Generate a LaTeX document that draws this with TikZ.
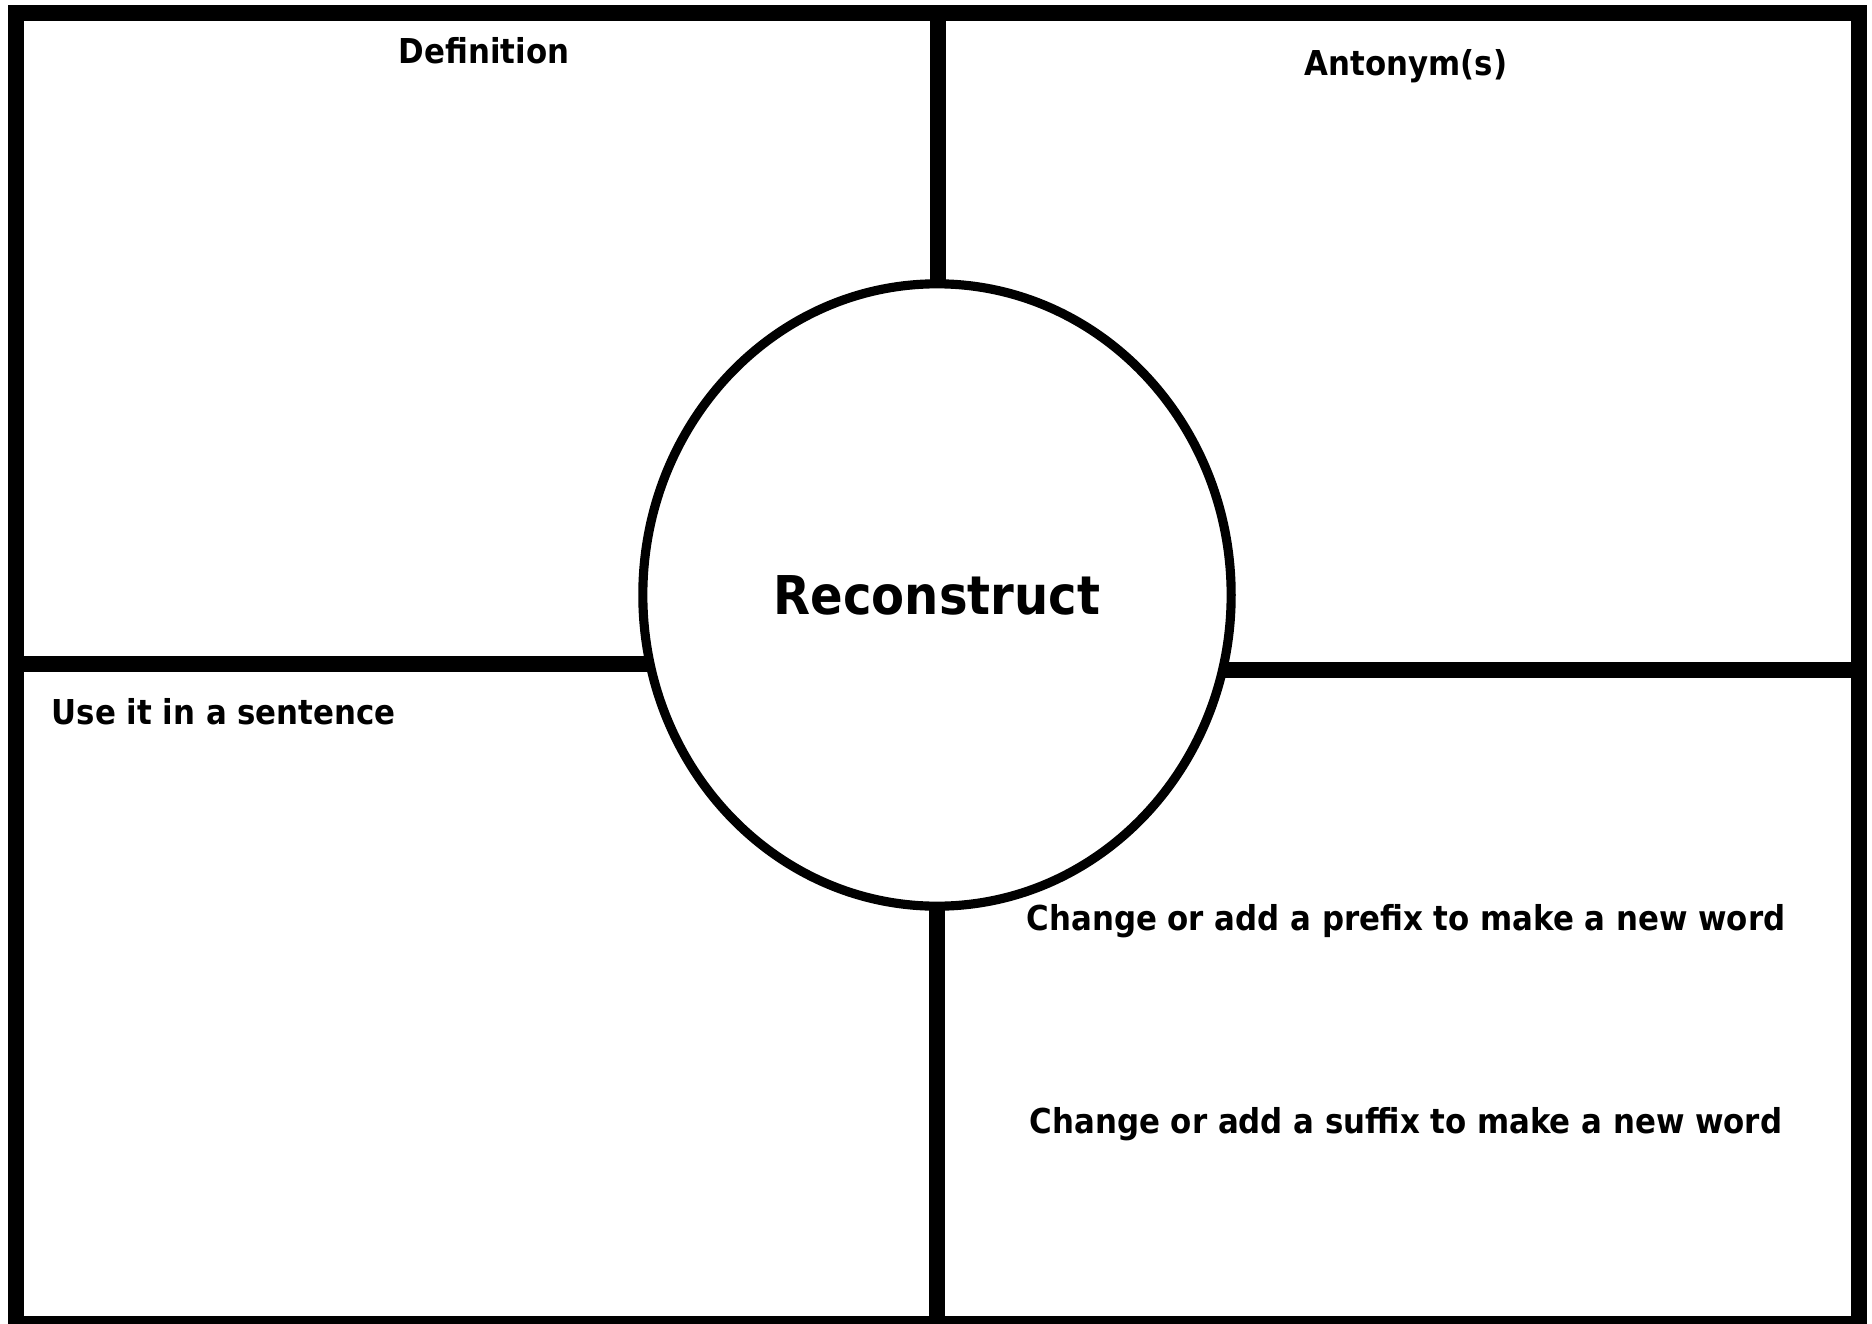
\documentclass[tikz,border=0pt]{standalone}
\usepackage{fontspec}
\setmainfont{DejaVu Sans Condensed}
\usetikzlibrary{shapes.geometric}
\tikzset{
  heavy/.style={line width=4.4pt},
  celltext/.style={font=\bfseries\fontsize{9.75}{12}\selectfont, inner sep=0pt},
}

\begin{document}
\begin{tikzpicture}[x=0.01cm, y=-0.01cm]
		\useasboundingbox (0,0) rectangle (1872,1324);
		
		% outer frame
		\draw[heavy] (16,13) rectangle (1859,1324);
		
		% dividing lines, they run under the circle
		\coordinate (c) at (937,595);
		\coordinate (top) at (938,13);
		\coordinate (bottom) at (937,1324);
		\coordinate (left) at (16,664);
		\coordinate (right) at (1859,670);
		\draw[heavy] (top) -- (top |- c);
		\draw[heavy] (bottom) -- (bottom |- c);
		\draw[heavy] (left) -- (left -| c);
		\draw[heavy] (right) -- (right -| c);
		
		% the word in the middle
		\node[draw, ellipse, line width=2.6pt, fill=white, inner sep=0pt,
		minimum width=5.88cm, minimum height=6.22cm,
		font=\bfseries\fontsize{15.2}{18}\selectfont] (word) at (c) {Reconstruct};
		
		% headings of the four boxes
		\node[celltext] (def) at (484,51) {Definition};
		\node[celltext] (ant) at (1406,66) {Antonym(s)};
		\node[celltext, anchor=west] (sent) at (51,712) {Use it in a sentence};
		\node[celltext] (pre) at (1406,921) {Change or add a prefix to make a new word};
		\node[celltext] (suf) at (1406,1124) {Change or add a suffix to make a new word};
		
	\end{tikzpicture}
\end{document}
